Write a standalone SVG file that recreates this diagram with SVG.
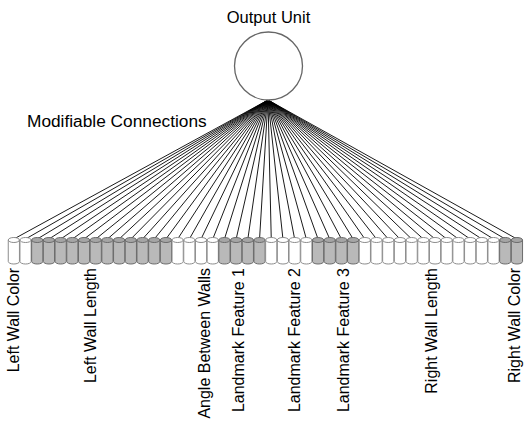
<svg xmlns="http://www.w3.org/2000/svg" xmlns:xlink="http://www.w3.org/1999/xlink" width="524" height="433" viewBox="0 0 524 433">
<style>
text{font-family:"Liberation Sans",Arial,sans-serif;font-size:16px;fill:#000}
.top{font-size:16.5px}
.mc{font-size:17.3px}
.bw{fill:#fff;stroke:#8c8c8c;stroke-width:1}
.tw{fill:#fff;stroke:#8c8c8c;stroke-width:1}
.bg{fill:#b9b9b9;stroke:#6a6a6a;stroke-width:1}
.tg{fill:#a5a5a5;stroke:#6a6a6a;stroke-width:1}
#connectors line{stroke:#000;stroke-width:0.9}
</style>
<defs>
<g id="cylW"><path class="bw" d="M-5.6,240 V261.5 A5.6,2.5 0 0 0 5.6,261.5 V240"/><ellipse class="tw" cx="0" cy="240" rx="5.6" ry="2.5"/></g>
<g id="cylG"><path class="bg" d="M-5.6,240 V261.5 A5.6,2.5 0 0 0 5.6,261.5 V240"/><ellipse class="tg" cx="0" cy="240" rx="5.6" ry="2.5"/></g>
</defs>
<rect width="524" height="433" fill="#fff"/>
<g id="connectors">
<line x1="268" y1="100" x2="13.85" y2="239"/>
<line x1="268" y1="100" x2="25.55" y2="239"/>
<line x1="268" y1="100" x2="37.25" y2="239"/>
<line x1="268" y1="100" x2="48.95" y2="239"/>
<line x1="268" y1="100" x2="60.65" y2="239"/>
<line x1="268" y1="100" x2="72.35" y2="239"/>
<line x1="268" y1="100" x2="84.05" y2="239"/>
<line x1="268" y1="100" x2="95.75" y2="239"/>
<line x1="268" y1="100" x2="107.45" y2="239"/>
<line x1="268" y1="100" x2="119.15" y2="239"/>
<line x1="268" y1="100" x2="130.85" y2="239"/>
<line x1="268" y1="100" x2="142.55" y2="239"/>
<line x1="268" y1="100" x2="154.25" y2="239"/>
<line x1="268" y1="100" x2="165.95" y2="239"/>
<line x1="268" y1="100" x2="177.65" y2="239"/>
<line x1="268" y1="100" x2="189.35" y2="239"/>
<line x1="268" y1="100" x2="201.05" y2="239"/>
<line x1="268" y1="100" x2="212.75" y2="239"/>
<line x1="268" y1="100" x2="224.45" y2="239"/>
<line x1="268" y1="100" x2="236.15" y2="239"/>
<line x1="268" y1="100" x2="247.85" y2="239"/>
<line x1="268" y1="100" x2="259.55" y2="239"/>
<line x1="268" y1="100" x2="271.25" y2="239"/>
<line x1="268" y1="100" x2="282.95" y2="239"/>
<line x1="268" y1="100" x2="294.65" y2="239"/>
<line x1="268" y1="100" x2="306.35" y2="239"/>
<line x1="268" y1="100" x2="318.05" y2="239"/>
<line x1="268" y1="100" x2="329.75" y2="239"/>
<line x1="268" y1="100" x2="341.45" y2="239"/>
<line x1="268" y1="100" x2="353.15" y2="239"/>
<line x1="268" y1="100" x2="364.85" y2="239"/>
<line x1="268" y1="100" x2="376.55" y2="239"/>
<line x1="268" y1="100" x2="388.25" y2="239"/>
<line x1="268" y1="100" x2="399.95" y2="239"/>
<line x1="268" y1="100" x2="411.65" y2="239"/>
<line x1="268" y1="100" x2="423.35" y2="239"/>
<line x1="268" y1="100" x2="435.05" y2="239"/>
<line x1="268" y1="100" x2="446.75" y2="239"/>
<line x1="268" y1="100" x2="458.45" y2="239"/>
<line x1="268" y1="100" x2="470.15" y2="239"/>
<line x1="268" y1="100" x2="481.85" y2="239"/>
<line x1="268" y1="100" x2="493.55" y2="239"/>
<line x1="268" y1="100" x2="505.25" y2="239"/>
<line x1="268" y1="100" x2="516.95" y2="239"/>
</g>
<g id="output-unit">
<circle cx="268.5" cy="66" r="34" fill="#fff" stroke="#666" stroke-width="1.3"/>
<text class="top" x="268.5" y="23" text-anchor="middle">Output Unit</text>
</g>
<text class="mc" x="27" y="127">Modifiable Connections</text>
<g id="inputs">
<g id="in0"><use xlink:href="#cylW" x="13.85"/></g>
<g id="in1"><use xlink:href="#cylW" x="25.55"/></g>
<g id="in2"><use xlink:href="#cylG" x="37.25"/></g>
<g id="in3"><use xlink:href="#cylG" x="48.95"/></g>
<g id="in4"><use xlink:href="#cylG" x="60.65"/></g>
<g id="in5"><use xlink:href="#cylG" x="72.35"/></g>
<g id="in6"><use xlink:href="#cylG" x="84.05"/></g>
<g id="in7"><use xlink:href="#cylG" x="95.75"/></g>
<g id="in8"><use xlink:href="#cylG" x="107.45"/></g>
<g id="in9"><use xlink:href="#cylG" x="119.15"/></g>
<g id="in10"><use xlink:href="#cylG" x="130.85"/></g>
<g id="in11"><use xlink:href="#cylG" x="142.55"/></g>
<g id="in12"><use xlink:href="#cylG" x="154.25"/></g>
<g id="in13"><use xlink:href="#cylG" x="165.95"/></g>
<g id="in14"><use xlink:href="#cylW" x="177.65"/></g>
<g id="in15"><use xlink:href="#cylW" x="189.35"/></g>
<g id="in16"><use xlink:href="#cylW" x="201.05"/></g>
<g id="in17"><use xlink:href="#cylW" x="212.75"/></g>
<g id="in18"><use xlink:href="#cylG" x="224.45"/></g>
<g id="in19"><use xlink:href="#cylG" x="236.15"/></g>
<g id="in20"><use xlink:href="#cylG" x="247.85"/></g>
<g id="in21"><use xlink:href="#cylG" x="259.55"/></g>
<g id="in22"><use xlink:href="#cylW" x="271.25"/></g>
<g id="in23"><use xlink:href="#cylW" x="282.95"/></g>
<g id="in24"><use xlink:href="#cylW" x="294.65"/></g>
<g id="in25"><use xlink:href="#cylW" x="306.35"/></g>
<g id="in26"><use xlink:href="#cylG" x="318.05"/></g>
<g id="in27"><use xlink:href="#cylG" x="329.75"/></g>
<g id="in28"><use xlink:href="#cylG" x="341.45"/></g>
<g id="in29"><use xlink:href="#cylG" x="353.15"/></g>
<g id="in30"><use xlink:href="#cylW" x="364.85"/></g>
<g id="in31"><use xlink:href="#cylW" x="376.55"/></g>
<g id="in32"><use xlink:href="#cylW" x="388.25"/></g>
<g id="in33"><use xlink:href="#cylW" x="399.95"/></g>
<g id="in34"><use xlink:href="#cylW" x="411.65"/></g>
<g id="in35"><use xlink:href="#cylW" x="423.35"/></g>
<g id="in36"><use xlink:href="#cylW" x="435.05"/></g>
<g id="in37"><use xlink:href="#cylW" x="446.75"/></g>
<g id="in38"><use xlink:href="#cylW" x="458.45"/></g>
<g id="in39"><use xlink:href="#cylW" x="470.15"/></g>
<g id="in40"><use xlink:href="#cylW" x="481.85"/></g>
<g id="in41"><use xlink:href="#cylW" x="493.55"/></g>
<g id="in42"><use xlink:href="#cylG" x="505.25"/></g>
<g id="in43"><use xlink:href="#cylG" x="516.95"/></g>
</g>
<g id="labels" text-anchor="end">
<text transform="translate(19,268) rotate(-90)">Left Wall Color</text>
<text transform="translate(96,268) rotate(-90)">Left Wall Length</text>
<text transform="translate(210,268) rotate(-90)">Angle Between Walls</text>
<text transform="translate(244,268) rotate(-90)">Landmark Feature 1</text>
<text transform="translate(300,268) rotate(-90)">Landmark Feature 2</text>
<text transform="translate(349,268) rotate(-90)">Landmark Feature 3</text>
<text transform="translate(437,268) rotate(-90)">Right Wall Length</text>
<text transform="translate(520,268) rotate(-90)">Right Wall Color</text>
</g>
</svg>
